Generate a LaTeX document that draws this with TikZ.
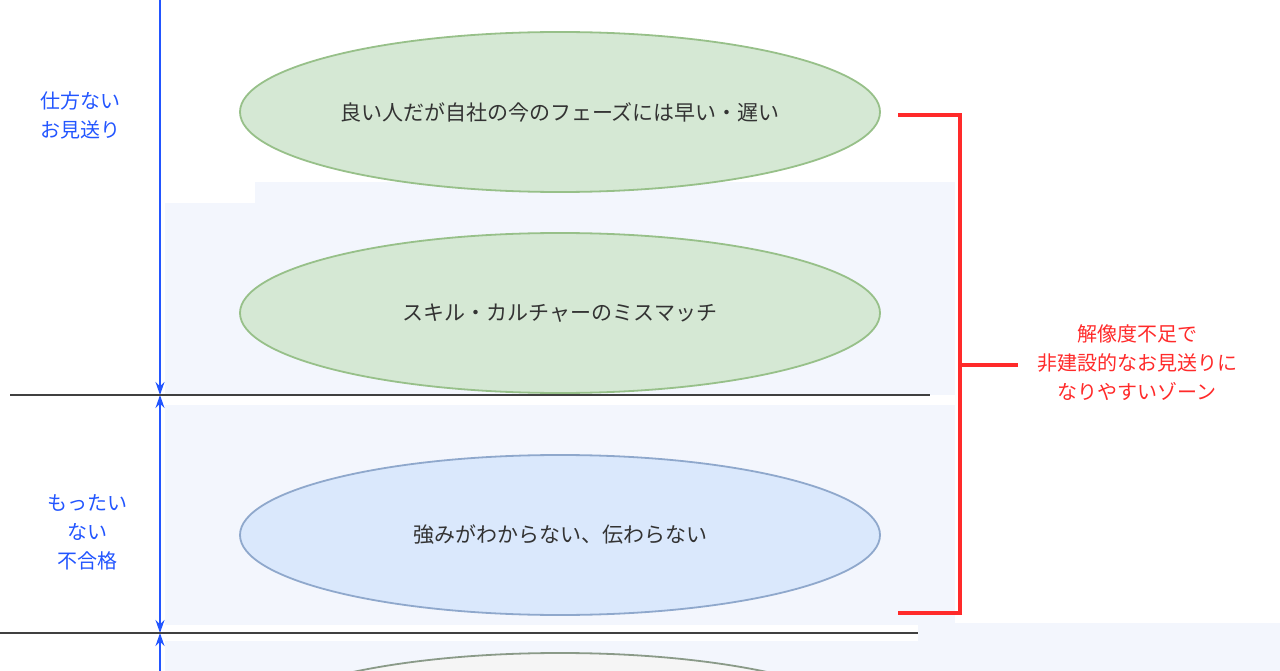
\documentclass[tikz,border=0pt]{standalone}
\usepackage{fontspec}
\setmainfont{Noto Sans CJK JP}
\usetikzlibrary{arrows.meta,shapes.geometric}
\definecolor{bgl}{HTML}{F3F6FD}
\definecolor{gfill}{HTML}{D5E8D4}
\definecolor{gdraw}{HTML}{97C089}
\definecolor{bfill}{HTML}{DAE8FC}
\definecolor{bdraw}{HTML}{8FA8CC}
\definecolor{yfill}{HTML}{F5F5F5}
\definecolor{ydraw}{HTML}{8A9A88}
\definecolor{blu}{HTML}{2255FF}
\definecolor{rd}{HTML}{FF2A2A}
\tikzset{
 oval/.style={ellipse, minimum width=640pt, minimum height=160pt, line width=1.8pt, font=\fontsize{21}{24}\selectfont, text=black!80},
 lab/.style={align=center, text=blu, font=\fontsize{20}{29}\selectfont},
 rlab/.style={align=center, text=rd, font=\fontsize{20}{29}\selectfont},
 vax/.style={blu, line width=1.6pt, -{Stealth[length=13pt,width=9pt]}},
 hline/.style={black!75, line width=2.2pt}
}
\begin{document}
\begin{tikzpicture}[x=1pt,y=-1pt]
\useasboundingbox (0,0) rectangle (1280,671);
\fill[bgl] (165,203) rectangle (955,395);
\fill[bgl] (255,182) rectangle (955,203);
\fill[bgl] (165,405) rectangle (955,625);
\fill[bgl] (165,641) rectangle (1280,671);
\fill[bgl] (918,623) rectangle (1280,641);
\node[oval, fill=gfill, draw=gdraw] (e1) at (560,112) {良い人だが自社の今のフェーズには早い・遅い};
\node[oval, fill=gfill, draw=gdraw] (e2) at (560,313) {スキル・カルチャーのミスマッチ};
\node[oval, fill=bfill, draw=bdraw] (e3) at (560,535) {強みがわからない、伝わらない};
\node[oval, fill=yfill, draw=ydraw] (e4) at (560,733) {};
\coordinate (t0) at (160,0);
\coordinate (t1) at (160,395);
\coordinate (t2) at (160,395);
\coordinate (t3) at (160,633);
\coordinate (t4) at (160,633);
\coordinate (t5) at (160,671);
\draw[vax] (t0) -- (t1);
\draw[vax, {Stealth[length=13pt,width=9pt]}-{Stealth[length=13pt,width=9pt]}] (t2) -- (t3);
\draw[vax, {Stealth[length=13pt,width=9pt]}-] (t4) -- (t5);
\coordinate (h1a) at (10,395); \coordinate (h1b) at (930,395);
\coordinate (h2a) at (0,633); \coordinate (h2b) at (918,633);
\draw[hline] (h1a) -- (h1b);
\draw[hline] (h2a) -- (h2b);
\node[lab] (l1) at (80,115) {仕方ない\\お見送り};
\node[lab] (l2) at (87,532) {もったい\\ない\\不合格};
\coordinate (b1) at (898,115); \coordinate (b2) at (960,115);
\coordinate (b3) at (960,613); \coordinate (b4) at (898,613);
\coordinate (bm) at (960,365); \coordinate (bn) at (1018,365);
\draw[rd, line width=3.5pt] (b1) -- (b2) -- (b3) -- (b4);
\node[rlab] (r) at (1137,363) {解像度不足で\\非建設的なお見送りに\\なりやすいゾーン};
\draw[rd, line width=3.5pt] (bm) -- (bn);
\end{tikzpicture}
\end{document}
